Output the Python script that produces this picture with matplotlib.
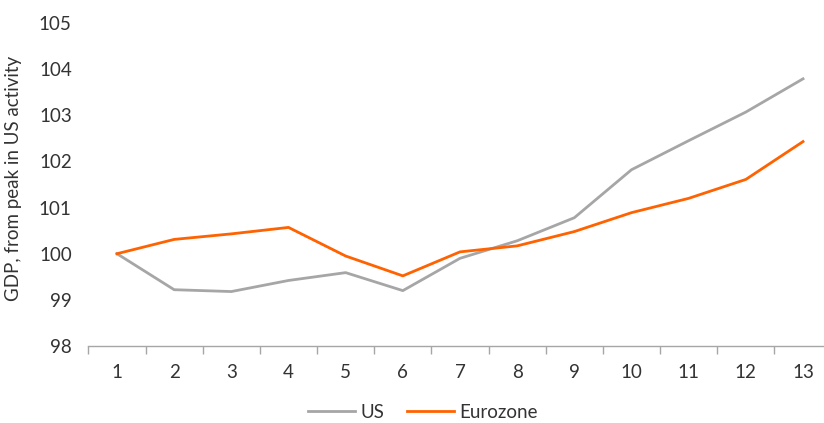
import numpy as np
import matplotlib.pyplot as plt

plt.rcParams['font.family'] = ['Lato', 'DejaVu Sans']

# Quarters since the US activity peak, GDP indexed to 100
quarters = list(range(1, 14))
us = [100.0, 99.22, 99.18, 99.42, 99.59, 99.2, 99.9, 100.28, 100.78, 101.82, 102.45, 103.07, 103.79]
eurozone = [100.0, 100.31, 100.43, 100.57, 99.95, 99.52, 100.04, 100.17, 100.48, 100.89, 101.2, 101.61, 102.43]
y_ticks = [98, 99, 100, 101, 102, 103, 104, 105]

GREY = "#A6A6A6"
ORANGE = "#FF6200"
TEXT = "#333333"
FS = 13.5

fig = plt.figure(figsize=(8.24, 4.23), dpi=100)
W, H = 824, 423
ax_w = 831.6 - 88.4
ax = fig.add_axes([88.4 / W, 1 - 346 / H, ax_w / W, (346 - 23) / H])

ax.plot(quarters, us, color=GREY, lw=2, label="US")
ax.plot(quarters, eurozone, color=ORANGE, lw=2, label="Eurozone")

ax.set_xlim(0.5, 13.5)
ax.set_ylim(98, 105)
ax.set_yticks(y_ticks)
ax.set_xticks(quarters)
ax.set_xticks(np.arange(0.5, 13.6, 1), minor=True)

for s in ["top", "right", "left"]:
    ax.spines[s].set_visible(False)
ax.spines["bottom"].set_color(GREY)
ax.spines["bottom"].set_linewidth(1)

ax.tick_params(axis="x", which="major", length=0, pad=13, labelsize=FS, labelcolor=TEXT)
ax.tick_params(axis="x", which="minor", length=6, color=GREY, width=1, direction="out")
ax.tick_params(axis="y", length=0, pad=12, labelsize=FS, labelcolor=TEXT)

ax.set_ylabel("GDP, from peak in US activity", fontsize=FS, color=TEXT)
ax.yaxis.set_label_coords(-66 / ax_w, 0.52)

fig.legend(loc="center", bbox_to_anchor=(423 / W, 1 - 412 / H), ncol=2, frameon=False,
           fontsize=FS, handlelength=2.5, columnspacing=1.2, handletextpad=0.3,
           labelcolor=TEXT)

fig.savefig("out.png", dpi=100)
